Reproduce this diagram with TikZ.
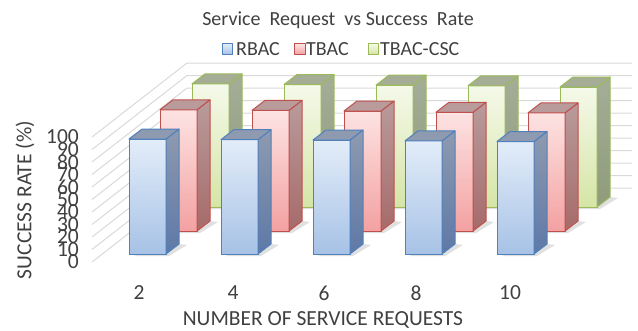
\documentclass[tikz,border=0pt]{standalone}
\usepackage{fontspec}
\setmainfont{Carlito}
\usepackage{xcolor}

\definecolor{txtgray}{HTML}{404040}
\definecolor{gridgray}{HTML}{D9D9D9}
\definecolor{rbacedge}{HTML}{4F81BD}
\definecolor{rbaclight}{HTML}{E3EDF9}
\definecolor{rbacdark}{HTML}{A7C2E6}
\definecolor{rbacside}{HTML}{5E78A6}
\definecolor{rbactop}{HTML}{8E9AB0}
\definecolor{tbacedge}{HTML}{C0504D}
\definecolor{tbaclight}{HTML}{FDE3E3}
\definecolor{tbacdark}{HTML}{F3A1A1}
\definecolor{tbacside}{HTML}{A76A6A}
\definecolor{tbactop}{HTML}{B99B9B}
\definecolor{cscedge}{HTML}{9BBB59}
\definecolor{csclight}{HTML}{F5F9EA}
\definecolor{cscdark}{HTML}{D5E5A6}
\definecolor{cscside}{HTML}{8E9C7A}
\definecolor{csctop}{HTML}{A5AD97}

\tikzset{
  rbac face/.style={draw=rbacedge, line width=1pt, top color=rbaclight, bottom color=rbacdark},
  rbac side/.style={draw=rbacedge, line width=1pt, top color=rbactop, bottom color=rbacside},
  rbac top/.style={draw=rbacedge, line width=1pt, fill=rbactop},
  tbac face/.style={draw=tbacedge, line width=1pt, top color=tbaclight, bottom color=tbacdark},
  tbac side/.style={draw=tbacedge, line width=1pt, top color=tbactop, bottom color=tbacside},
  tbac top/.style={draw=tbacedge, line width=1pt, fill=tbactop},
  csc face/.style={draw=cscedge, line width=1pt, top color=csclight, bottom color=cscdark},
  csc side/.style={draw=cscedge, line width=1pt, top color=csctop, bottom color=cscside},
  csc top/.style={draw=cscedge, line width=1pt, fill=csctop},
  barshadow/.style={fill=black, opacity=0.12},
  gridline/.style={draw=gridgray, line width=1pt},
  lbl/.style={text=txtgray, font=\fontsize{20}{20}\selectfont, inner sep=0pt},
  biglbl/.style={lbl, font=\fontsize{21.5}{21.5}\selectfont},
  keybox/.style={line width=1pt, minimum size=10.5pt, inner sep=0pt},
}

% one 3d column: x left, y bottom, value, series
\newcommand{\colbar}[4]{%
  \pgfmathsetmacro{\bt}{#2-1.25*#3}
  \fill[barshadow] (#1+4,#2+2) -- (#1+40,#2+2) -- (#1+58,#2-9) -- (#1+50,#2-10) -- cycle;
  \draw[#4 face] (#1,#2) rectangle (#1+37,\bt);
  \draw[#4 side] (#1+37,#2) -- (#1+50,#2-10) -- (#1+50,\bt-10) -- (#1+37,\bt) -- cycle;
  \draw[#4 top] (#1,\bt) -- (#1+13,\bt-10) -- (#1+50,\bt-10) -- (#1+37,\bt) -- cycle;
}

\begin{document}
\begin{tikzpicture}[x=1pt, y=-1pt, line join=round]
	\useasboundingbox (0,0) rectangle (638,330);
	% walls and grid
	\foreach \k in {0,...,10} {
		\draw[gridline] (92,262-12.5*\k) -- (187,188-12.5*\k) -- (632,188-12.5*\k);
		\node[biglbl, anchor=east] (yt\k) at (79,262-12.5*\k) {\the\numexpr\k*10\relax};
	}
	% TBAC-CSC row
	\colbar{192}{207}{98.5}{csc}
	\colbar{284}{207}{98}{csc}
	\colbar{376}{207}{97.5}{csc}
	\colbar{468}{207}{97}{csc}
	\colbar{560}{207}{96}{csc}
	% TBAC row
	\colbar{160}{231}{97}{tbac}
	\colbar{252}{231}{96.5}{tbac}
	\colbar{344}{231}{96}{tbac}
	\colbar{436}{231}{95}{tbac}
	\colbar{528}{231}{94.5}{tbac}
	% RBAC row
	\colbar{129}{254}{92}{rbac}
	\colbar{221}{254}{91.5}{rbac}
	\colbar{313}{254}{91.2}{rbac}
	\colbar{405}{254}{90.5}{rbac}
	\colbar{497}{254}{90}{rbac}
	% axis labels
	\node[biglbl] (x2) at (139,293) {2};
	\node[biglbl] (x4) at (233,293) {4};
	\node[biglbl] (x6) at (324,293) {6};
	\node[biglbl] (x8) at (416,293) {8};
	\node[biglbl] (x10) at (510,293) {10};
	\node[biglbl] (xtitle) at (323,320) {NUMBER OF SERVICE REQUESTS};
	\node[biglbl, rotate=90] (ytitle) at (25,200) {SUCCESS RATE (\%)};
	% title and key
	\node[lbl] (title) at (338,20) {Service\ \ Request\ \ vs Success\ \ Rate};
	\node[keybox, draw=rbacedge, top color=rbaclight, bottom color=rbacdark] (k1) at (227.5,49) {};
	\node[lbl, anchor=west] (k1t) at (236,49) {RBAC};
	\node[keybox, draw=tbacedge, top color=tbaclight, bottom color=tbacdark] (k2) at (300,49) {};
	\node[lbl, anchor=west] (k2t) at (306,49) {TBAC};
	\node[keybox, draw=cscedge, top color=csclight, bottom color=cscdark] (k3) at (373.5,49) {};
	\node[lbl, anchor=west] (k3t) at (380,49) {TBAC-CSC};
\end{tikzpicture}
\end{document}
